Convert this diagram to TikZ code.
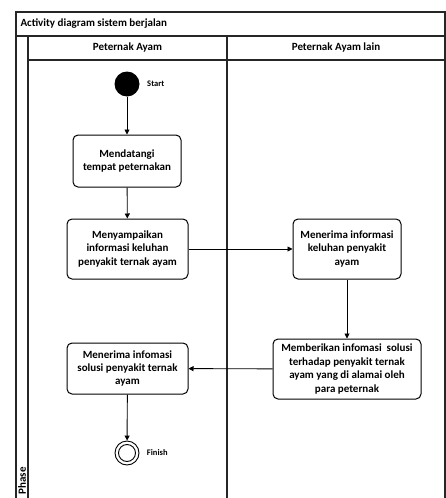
\documentclass[tikz,border=0pt]{standalone}
\usepackage{fontspec}
\setmainfont{Carlito}
\usetikzlibrary{positioning,arrows.meta}

\begin{document}
\begin{tikzpicture}[x=1pt, y=-1pt,
  lane/.style={line width=1.1pt, draw=black!85},
  action/.style={draw, line width=1pt, rounded corners=5pt, align=center,
                 font=\fontsize{11}{13.5}\selectfont\bfseries, inner sep=2pt},
  lanelbl/.style={font=\fontsize{11}{13}\selectfont\bfseries},
  small/.style={font=\fontsize{8.5}{10}\selectfont\bfseries},
  flow/.style={line width=0.9pt, -{Triangle[length=5pt,width=5pt]}},
  ]
  \clip (0,0) rectangle (446,498);

  % swimlane frame
  \draw[lane] (16,520) -- (16,12) -- (445,12) -- (445,520);
  \draw[lane] (16,36) -- (445,36);
  \draw[lane] (28,36) -- (28,520);
  \draw[lane] (28,60) -- (445,60);
  \draw[lane] (227,36) -- (227,520);

  \node[lanelbl, anchor=west] (title) at (17,24) {Activity diagram sistem berjalan};
  \node[lanelbl] (laneA) at (127.5,48) {Peternak Ayam};
  \node[lanelbl] (laneB) at (336,48) {Peternak Ayam lain};
  \node[lanelbl, rotate=90, anchor=east, inner sep=1pt] (phase) at (22,466) {Phase};

  % start / finish
  \node[circle, fill=black, minimum size=25pt, inner sep=0pt] (start) at (127,84) {};
  \node[small, right=4pt of start] (startlbl) {Start};
  \node[circle, draw, line width=0.9pt, minimum size=24pt, inner sep=0pt] (finish) at (127,453) {};
  \node[circle, draw, line width=0.9pt, minimum size=17pt, inner sep=0pt] at (finish) {};
  \node[small, right=4pt of finish] (finishlbl) {Finish};

  % actions
  \node[action, minimum width=108pt, minimum height=52pt] (datang) at (127,161)
    {Mendatangi\\tempat peternakan};
  \node[action, minimum width=121pt, minimum height=60pt] (sampai) at (127.5,249)
    {Menyampaikan\\informasi keluhan\\penyakit ternak ayam};
  \node[action, minimum width=108pt, minimum height=60pt] (terima) at (347,249)
    {Menerima informasi\\keluhan penyakit\\ayam};
  \node[action, minimum width=148pt, minimum height=60pt] (beri) at (347,369)
    {Memberikan infomasi\ \ solusi\\terhadap penyakit ternak\\ayam yang di alamai oleh\\para peternak};
  \node[action, minimum width=121pt, minimum height=51pt] (solusi) at (127.5,368.5)
    {Menerima infomasi\\solusi penyakit ternak\\ayam};

  \draw[flow] (start) -- (datang);
  \draw[flow] (datang) -- (sampai);
  \draw[flow] (sampai) -- (terima);
  \draw[flow] (terima) -- (beri);
  \draw[flow] (beri) -- (solusi);
  \draw[flow] (solusi) -- (finish);
\end{tikzpicture}
\end{document}
